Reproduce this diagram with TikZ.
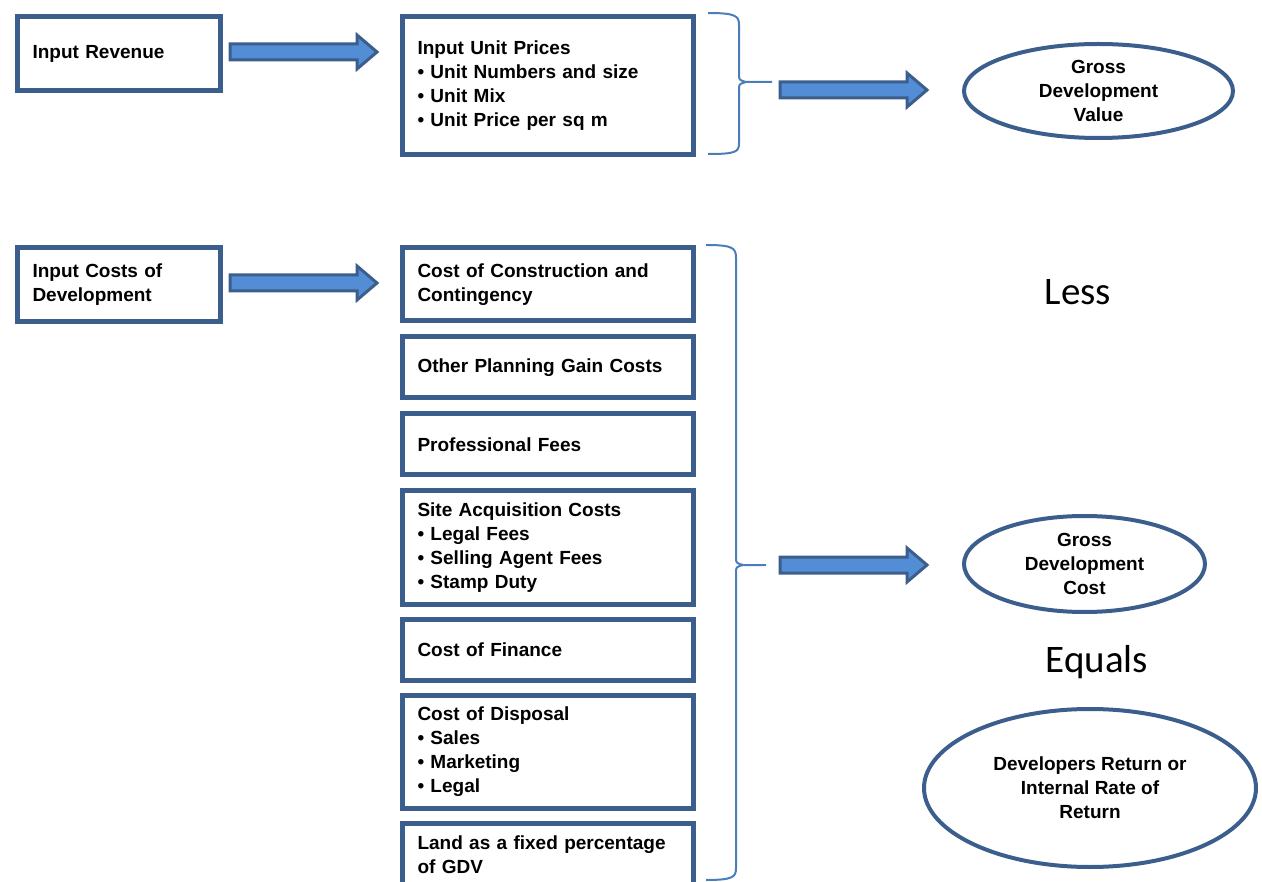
\documentclass[tikz,border=0pt]{standalone}
\usepackage{fontspec}
\setmainfont{Liberation Sans}
\newfontfamily\calib{Carlito}
\usetikzlibrary{shapes.geometric}
\definecolor{boxblue}{RGB}{59,94,140}
\definecolor{braceblue}{RGB}{74,126,187}
\definecolor{arrowfill}{RGB}{83,141,213}
\tikzset{
  x=1pt, y=-1pt,
  box/.style={draw=boxblue, line width=5pt, fill=white, rectangle, anchor=north west,
    inner xsep=15.5pt, inner ysep=0pt, align=left, font=\bfseries\fontsize{19}{24}\selectfont},
  wide/.style={minimum width=291pt, text width=260pt},
  narrow/.style={minimum width=203pt, text width=172pt},
  ovaltext/.style={align=center, font=\bfseries\fontsize{19}{24}\selectfont, inner sep=0pt},
  oval/.style={draw=boxblue, line width=4pt},
  brace/.style={draw=braceblue, line width=2pt, line join=round},
  bigword/.style={font=\calib\fontsize{39}{46}\selectfont, inner sep=0pt},
  pics/barrow/.style={code={
    \draw[draw=boxblue, fill=arrowfill, line width=3pt, line join=miter]
      (0,-8) -- (127,-8) -- (127,-17) -- (147,0) -- (127,17) -- (127,8) -- (0,8) -- cycle;}}
}
\begin{document}
\begin{tikzpicture}
\useasboundingbox (0,0) rectangle (1262,882);

% top row
\node[box, narrow, minimum height=74pt] (rev) at (14.5,14.5) {Input Revenue};
\node[box, wide, minimum height=138pt] (up) at (399.5,14.5)
  {Input Unit Prices\\• Unit Numbers and size\\• Unit Mix\\• Unit Price per sq m};

% cost column
\node[box, narrow, minimum height=74pt] (icd) at (14.5,245.5) {Input Costs of\\Development};
\node[box, wide, minimum height=73pt] (c1) at (399.5,245.5) {Cost of Construction and\\Contingency};
\node[box, wide, minimum height=61pt] (c2) at (399.5,334.5) {Other Planning Gain Costs};
\node[box, wide, minimum height=61pt] (c3) at (399.5,411.5) {Professional Fees};
\node[box, wide, minimum height=113pt] (c4) at (399.5,488.5)
  {Site Acquisition Costs\\• Legal Fees\\• Selling Agent Fees\\• Stamp Duty};
\node[box, wide, minimum height=61pt] (c5) at (399.5,616.5) {Cost of Finance};
\node[box, wide, minimum height=113pt] (c6) at (399.5,692.5)
  {Cost of Disposal\\• Sales\\• Marketing\\• Legal};
\node[box, wide, minimum height=64pt] (c7) at (399.5,820.5)
  {Land as a fixed percentage\\of GDV};

% arrows
\coordinate (a1) at (230,52);
\coordinate (a2) at (230,283);
\coordinate (a3) at (780,90);
\coordinate (a4) at (780,565);
\pic at (a1) {barrow};
\pic at (a2) {barrow};
\pic at (a3) {barrow};
\pic at (a4) {barrow};

% braces
\draw[brace] (708,13) .. controls (736,13) and (739,16) .. (739,25) -- (739,74)
  .. controls (739,80) .. (746,82) -- (772,82);
\draw[brace] (746,82) .. controls (739,84) .. (739,90) -- (739,143)
  .. controls (739,152) and (736,154) .. (708,154);
\draw[brace] (706,245) .. controls (733,245) and (736,248) .. (736,258) -- (736,557)
  .. controls (736,563) .. (743,565) -- (766,565);
\draw[brace] (743,565) .. controls (736,567) .. (736,573) -- (736,868)
  .. controls (736,877) and (733,880) .. (706,880);

% ovals
\node[ovaltext] (gdv) at (1098.5,91) {Gross\\Development\\Value};
\draw[oval] (gdv.center) ellipse [x radius=134.5, y radius=47];
\node[ovaltext] (gdc) at (1084.5,564) {Gross\\Development\\Cost};
\draw[oval] (gdc.center) ellipse [x radius=120.5, y radius=48];
\node[ovaltext] (irr) at (1090,788) {Developers Return or\\Internal Rate of\\Return};
\draw[oval] (irr.center) ellipse [x radius=166, y radius=79];

% words
\node[bigword] (less) at (1078,292) {Less};
\node[bigword] (equals) at (1097,662) {Equals};
\end{tikzpicture}
\end{document}
